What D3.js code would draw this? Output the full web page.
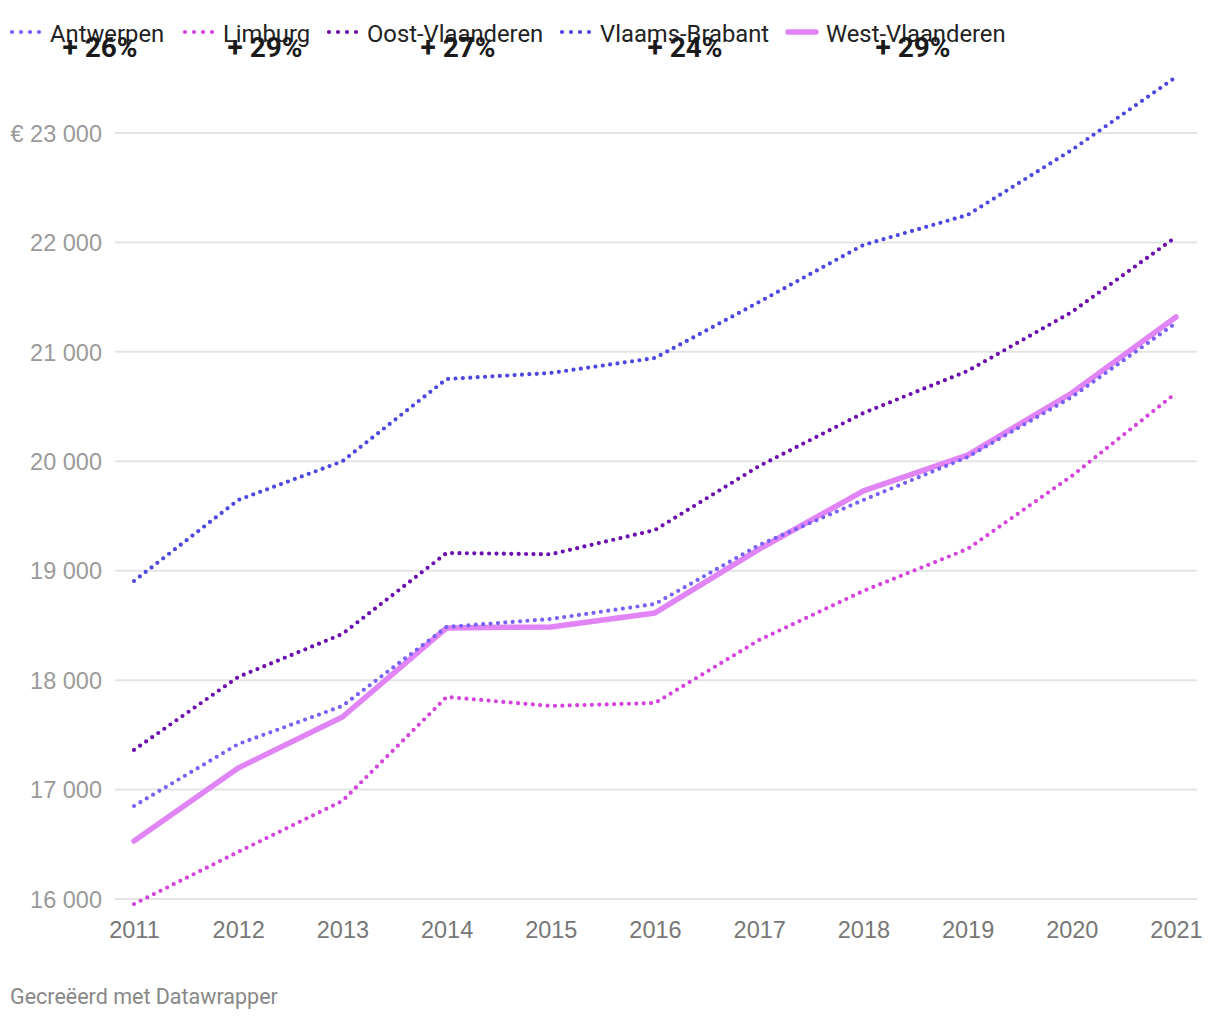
<!DOCTYPE html>
<html><head><meta charset="utf-8">
<script src="https://cdn.jsdelivr.net/npm/d3@7"></script>
<style>
body{margin:0;background:#fff;}
svg{font-family:Roboto,"Noto Sans",sans-serif;}
</style></head><body>
<svg id="c" width="1220" height="1020"></svg>
<script>
const years = [2011,2012,2013,2014,2015,2016,2017,2018,2019,2020,2021];
const seriesNames = ["Antwerpen","Limburg","Oost-Vlaanderen","Vlaams-Brabant","West-Vlaanderen"];
const antwerpen = [16850,17416,17764,18486,18559,18696,19235,19646,20039,20587,21264];
const limburg = [15954,16430,16896,17846,17764,17791,18367,18815,19199,19866,20624];
const oostVlaanderen = [17362,18029,18422,19162,19150,19372,19957,20441,20825,21364,22050];
const vlaamsBrabant = [18906,19646,20000,20752,20807,20944,21456,21977,22251,22845,23512];
const westVlaanderen = [16530,17197,17663,18477,18486,18614,19198,19729,20057,20624,21319];
const yTicks = [16000,17000,18000,19000,20000,21000,22000,23000];
const growthLabels = ["+ 26%","+ 29%","+ 27%","+ 24%","+ 29%"];
const footer = "Gecreëerd met Datawrapper";

const colors = {"Antwerpen":"#7a61f5","Limburg":"#d444dc","Oost-Vlaanderen":"#6b0fae","Vlaams-Brabant":"#4d47e0","West-Vlaanderen":"#e084f6"};
const valuesBy = {"Antwerpen":antwerpen,"Limburg":limburg,"Oost-Vlaanderen":oostVlaanderen,"Vlaams-Brabant":vlaamsBrabant,"West-Vlaanderen":westVlaanderen};

const svg = d3.select("#c");
const x = d3.scaleLinear().domain([2011,2021]).range([134,1176]);
const y = d3.scaleLinear().domain([16000,23000]).range([899,133]);

const fmt = v => (v===23000?"€ ":"") + d3.format(",")(v).replace(/,/g," ");
const yAxis = d3.axisLeft(y).tickValues(yTicks).tickSize(0).tickPadding(0).tickFormat(fmt);
const gy = svg.append("g").attr("transform","translate(102,0)").call(yAxis);
gy.select(".domain").remove();
gy.selectAll("text").attr("fill","#9a9a9a").style("font-size","23.5px").attr("dy","0.35em").attr("x",0);
svg.append("g").selectAll("line").data(yTicks).join("line")
  .attr("x1",115).attr("x2",1197).attr("y1",d=>y(d)).attr("y2",d=>y(d))
  .attr("stroke","#e4e4e4").attr("stroke-width",2);

const xAxis = d3.axisBottom(x).tickValues(years).tickSize(0).tickPadding(0).tickFormat(d3.format("d"));
const gx = svg.append("g").attr("transform","translate(0,938)").call(xAxis);
gx.select(".domain").remove();
gx.selectAll("text").attr("fill","#777").style("font-size","23.5px").attr("dy","0");

const line = d3.line().x((d,i)=>x(years[i])).y(d=>y(d));
svg.append("path").datum(westVlaanderen).attr("d",line).attr("fill","none")
  .attr("stroke",colors["West-Vlaanderen"]).attr("stroke-width",5.5).attr("stroke-linejoin","round").attr("stroke-linecap","round");
["Limburg","Oost-Vlaanderen","Vlaams-Brabant","Antwerpen"].forEach(n=>{
  svg.append("path").datum(valuesBy[n]).attr("d",line).attr("fill","none")
    .attr("stroke",colors[n]).attr("stroke-width",4.2).attr("stroke-linecap","round")
    .attr("stroke-dasharray","0,7.4");
});

const legX = [10,183,327,560,786];
const lg = svg.append("g");
seriesNames.forEach((n,i)=>{
  const g = lg.append("g").attr("transform",`translate(${legX[i]},32)`);
  if(n==="West-Vlaanderen"){
    g.append("line").attr("x1",2).attr("x2",30).attr("y1",0).attr("y2",0)
      .attr("stroke",colors[n]).attr("stroke-width",5.5).attr("stroke-linecap","round");
  } else {
    g.append("line").attr("x1",2).attr("x2",30).attr("y1",0).attr("y2",0)
      .attr("stroke",colors[n]).attr("stroke-width",4.2).attr("stroke-linecap","round").attr("stroke-dasharray","0,9");
  }
  g.append("text").attr("x",40).attr("y",9.5).text(n).attr("fill","#222").style("font-size","23.8px");
});

const annX = [100,265,458,685,913];
svg.append("g").selectAll("text").data(growthLabels).join("text")
  .attr("x",(d,i)=>annX[i]).attr("y",57).attr("text-anchor","middle")
  .style("font-size","28px").style("font-weight","bold").attr("fill","#1a1a1a").text(d=>d);

svg.append("text").attr("x",10).attr("y",1004).text(footer).attr("fill","#888").style("font-size","21.5px");
</script></body></html>
